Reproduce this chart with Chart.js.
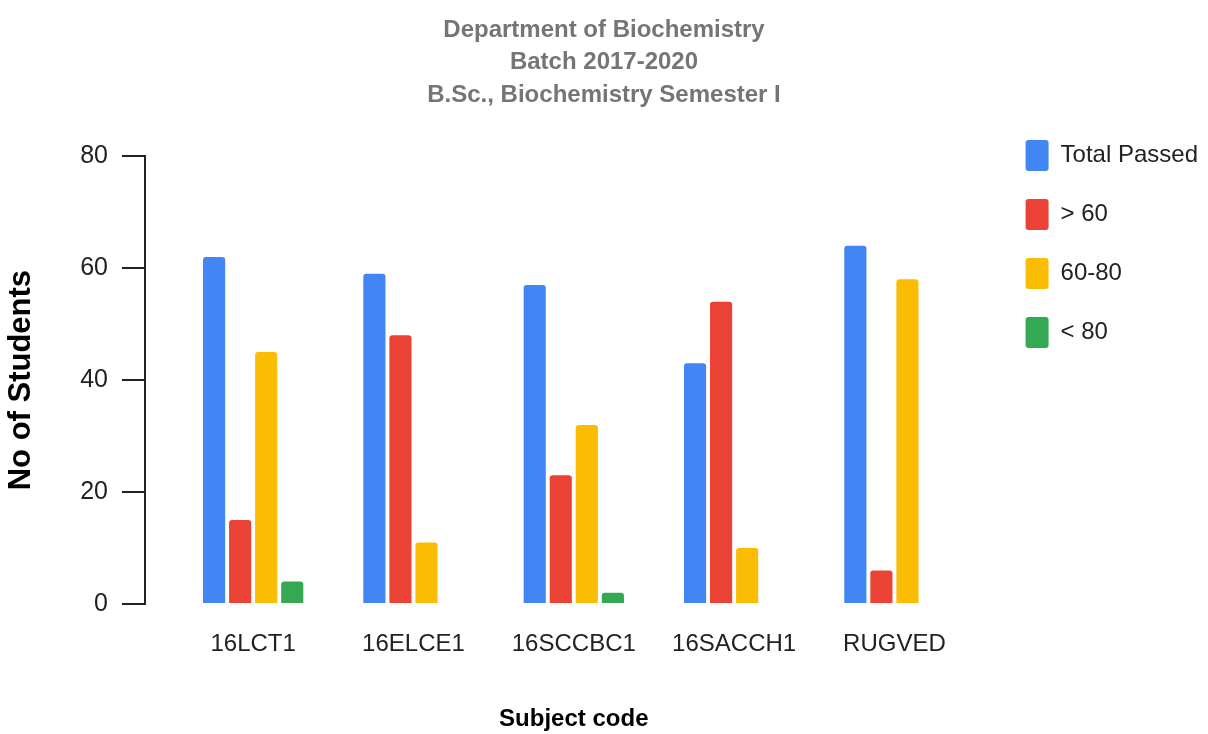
<!DOCTYPE html>
<html>
<head>
<meta charset="utf-8">
<script src="https://cdn.jsdelivr.net/npm/chart.js@4"></script>
<style>
  body { margin: 0; background: #fff; }
  #wrap { width: 1208px; height: 734px; position: relative; }
</style>
</head>
<body>
<div id="wrap"><canvas id="bars"></canvas></div>
<script>
const subjects = ["16LCT1", "16ELCE1", "16SCCBC1", "16SACCH1", "RUGVED"];
const totalPassed = [62, 59, 57, 43, 64];
const above60 = [15, 48, 23, 54, 6];
const between60and80 = [45, 11, 32, 10, 58];
const below80 = [4, 0, 2, 0, 0];
const yTicks = [0, 20, 40, 60, 80];

const sans = "'Liberation Sans', Arial, sans-serif";

// google-charts style: groups sit a bit inside the axis, not flush to it
const insetX = {
  id: "insetX",
  afterLayout(chart) {
    const x = chart.scales.x;
    x.left = chart.chartArea.left + 28;
    x.right = chart.chartArea.right - 23;
    x.configure();
  },
};

new Chart(document.getElementById("bars"), {
  type: "bar",
  data: {
    labels: subjects,
    datasets: [
      { label: "Total Passed", data: totalPassed, backgroundColor: "#4285F4" },
      { label: "> 60", data: above60, backgroundColor: "#EA4335" },
      { label: "60-80", data: between60and80, backgroundColor: "#FBBC04" },
      { label: "< 80", data: below80, backgroundColor: "#34A853" },
    ],
  },
  plugins: [insetX],
  options: {
    responsive: true,
    maintainAspectRatio: false,
    animation: false,
    layout: { padding: { left: 0, right: 0, top: 0, bottom: 0 } },
    datasets: {
      bar: {
        categoryPercentage: 0.65,
        barPercentage: 0.85,
        borderRadius: 3,
        borderSkipped: "start",
      },
    },
    plugins: {
      title: {
        display: true,
        text: ["Department of Biochemistry", "Batch 2017-2020", "B.Sc., Biochemistry Semester I"],
        color: "#757575",
        font: { family: sans, size: 24, weight: "bold", lineHeight: 1.35 },
        padding: { top: 14, bottom: 45 },
      },
      legend: {
        position: "right",
        align: "start",
        title: { display: true, text: " ", font: { size: 10 }, padding: { top: 100, bottom: 0 } },
        labels: {
          boxWidth: 23,
          boxHeight: 31,
          padding: 28,
          color: "#222",
          font: { family: sans, size: 24 },
          useBorderRadius: true,
          borderRadius: 3,
        },
      },
      tooltip: { enabled: false },
    },
    scales: {
      x: {
        grid: { display: false },
        border: { display: false },
        ticks: { color: "#222", font: { family: sans, size: 24 }, padding: 18, maxRotation: 0 },
        title: {
          display: true,
          text: "Subject code",
          color: "#000",
          font: { family: sans, size: 24, weight: "bold" },
          padding: { top: 0, bottom: 0 },
        },
        afterFit: (s) => { s.height = 130; },
      },
      y: {
        min: 0,
        max: 80,
        afterBuildTicks: (s) => { s.ticks = yTicks.map((v) => ({ value: v })); },
        grid: { drawOnChartArea: false, drawTicks: true, tickLength: 23, color: "#222", lineWidth: 2 },
        border: { display: true, color: "#222", width: 2 },
        ticks: { color: "#222", font: { family: sans, size: 25 }, padding: 14 },
        title: {
          display: true,
          text: "No of Students",
          color: "#000",
          font: { family: sans, size: 31, weight: "bold" },
          padding: { top: 3, bottom: 0 },
        },
        afterFit: (s) => { s.width = 145; },
      },
    },
  },
});
</script>
</body>
</html>
